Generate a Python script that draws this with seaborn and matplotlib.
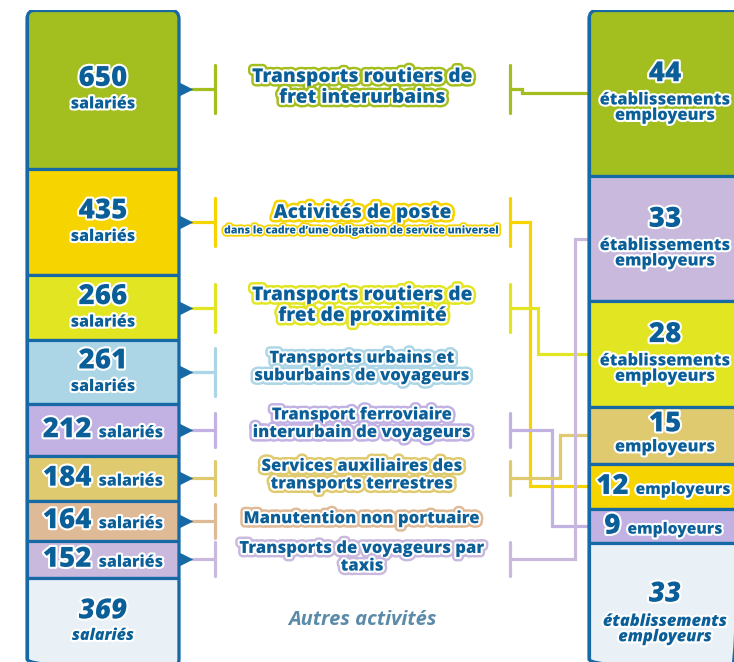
import matplotlib
matplotlib.use("Agg")
import matplotlib.pyplot as plt
import matplotlib.patheffects as pe
from matplotlib.patches import FancyBboxPatch
from matplotlib.offsetbox import TextArea, HPacker, AnnotationBbox
import seaborn as sns
import numpy as np

sns.set_theme(style="white")
plt.rcParams['font.family'] = ['Open Sans', 'DejaVu Sans']

### data
activites = ["Transports routiers de\nfret interurbains",
             "Activités de poste",
             "Transports routiers de\nfret de proximité",
             "Transports urbains et\nsuburbains de voyageurs",
             "Transport ferroviaire\ninterurbain de voyageurs",
             "Services auxiliaires des\ntransports terrestres",
             "Manutention non portuaire",
             "Transports de voyageurs par\ntaxis"]
sous_titres = ["", "dans le cadre d’une obligation de service universel", "", "", "", "", "", ""]
salaries = [650, 435, 266, 261, 212, 184, 164, 152]
etablissements = [44, 12, 28, np.nan, 9, 15, np.nan, 33]
couleurs = ["#a3bf1f", "#f5d400", "#e2e622", "#acd6e6", "#c1b2e3", "#dfca6f", "#dfba97", "#c9badd"]
autres_label = "Autres activités"
autres_salaries = 369
autres_etablissements = 33
autres_couleur = "#e9f1f7"

### style / layout
BLEU = "#1769a5"
TEXTE = "#0b5f98"
FW = 800
W, H = 734, 662
top_px, bottom_px = 10, 668
PX = 1 / (bottom_px - top_px)
left_x0, right_x0, col_w = 27, 589, 152
arrow_x, bracket_l, bracket_r, text_x = 185.5, 215, 510, 362
bracket_half = [24, 24, 24, 24, 17, 17, 17, 17]
title_size = [13.8, 13.8, 13.8, 12, 12, 12, 12, 12]
title_dy = [2, 9, 2, 5, 6, 3, 2, 2]
lanes = [522, 530, 538, None, 552, 560, None, 575]
NUM = 20
LW = 2.3

fig = plt.figure(figsize=(W / 100, H / 100), dpi=100)
ax = fig.add_axes([0, (H - bottom_px) / H, 1, (bottom_px - top_px) / H])
ax.set_xlim(0, W)
ax.set_ylim(1, 0)
ax.axis('off')

halo_w = [pe.withStroke(linewidth=3, foreground='white')]


def halo_double(col, outer=6.5, inner=3):
    return [pe.Stroke(linewidth=outer, foreground=col), pe.Stroke(linewidth=inner, foreground='white'), pe.Normal()]


### stacks
vals_l = salaries + [autres_salaries]
share_l = np.array(vals_l, dtype=float) / sum(vals_l)
bottom_l = np.cumsum(share_l) - share_l
centre_l = bottom_l + share_l / 2
cols_l = couleurs + [autres_couleur]

order = sorted([i for i in range(len(activites)) if not np.isnan(etablissements[i])],
               key=lambda i: -etablissements[i])
vals_r = [etablissements[i] for i in order] + [autres_etablissements]
share_r = np.array(vals_r, dtype=float) / sum(vals_r)
bottom_r = np.cumsum(share_r) - share_r
centre_r = bottom_r + share_r / 2
cols_r = [couleurs[i] for i in order] + [autres_couleur]
centre_r_act = {i: centre_r[k] for k, i in enumerate(order)}


def colonne(x0, shares, bottoms, colors):
    frame = FancyBboxPatch((x0, 0), col_w, 1, boxstyle="round,pad=0,rounding_size=9",
                           mutation_aspect=PX, fc='none', ec=BLEU, lw=LW, zorder=4)
    ax.add_patch(frame)
    bars = ax.bar(x0 + col_w / 2, shares, bottom=bottoms, width=col_w, color=colors,
                  edgecolor=BLEU, linewidth=LW, zorder=3)
    for b in bars:
        b.set_clip_path(frame)


colonne(left_x0, share_l, bottom_l, cols_l)
colonne(right_x0, share_r, bottom_r, cols_r)


def txt(x, y, s, size, dy=0, style='normal', **kw):
    ax.annotate(s, (x, y), xytext=(0, dy), textcoords='offset pixels', ha='center', va='center',
                fontsize=size, fontweight=FW, fontstyle=style, color=TEXTE,
                path_effects=halo_w, zorder=6, linespacing=0.95, **kw)


def ligne(x, y, num, unit, unit_size, dx=0):
    p = dict(fontweight=FW, color=TEXTE, path_effects=halo_w)
    box = HPacker(children=[TextArea(num, textprops=dict(fontsize=NUM, **p)),
                            TextArea(unit, textprops=dict(fontsize=unit_size, **p))],
                  align="baseline", pad=0, sep=5)
    ab = AnnotationBbox(box, (x + dx, y), frameon=False, box_alignment=(0.5, 0.5), pad=0, zorder=6)
    ax.add_artist(ab)


### left column labels
xl = left_x0 + col_w / 2
for k, v in enumerate(vals_l):
    seg = share_l[k] / PX
    last = k == len(vals_l) - 1
    if last:
        txt(xl, centre_l[k], str(v), NUM, dy=12, style='italic')
        txt(xl, centre_l[k], "salariés", 11.5, dy=-13, style='italic')
    elif seg > 60:
        txt(xl, centre_l[k], str(v), NUM, dy=11)
        txt(xl, centre_l[k], "salariés", 11.5, dy=-15)
    else:
        ligne(xl, centre_l[k], str(v), "salariés", 11.5)

### right column labels
xr = right_x0 + col_w / 2
for k, v in enumerate(vals_r):
    seg = share_r[k] / PX
    last = k == len(vals_r) - 1
    if last:
        txt(xr, centre_r[k], str(v), NUM, dy=11.5, style='italic')
        txt(xr, centre_r[k], "établissements\nemployeurs", 11.8, dy=-24, style='italic')
    elif seg > 100:
        txt(xr, centre_r[k], str(v), NUM, dy=19.5)
        txt(xr, centre_r[k], "établissements\nemployeurs", 11.8, dy=-15)
    elif seg > 50:
        txt(xr, centre_r[k], str(v), NUM, dy=11.5)
        txt(xr, centre_r[k], "employeurs", 11.8, dy=-12)
    else:
        ligne(xr, centre_r[k], str(v), "employeurs", 11.2, dx=-2)

### arrows, brackets and connectors
sns.scatterplot(x=[arrow_x] * len(salaries), y=centre_l[:len(salaries)], marker='>', s=95,
                color=BLEU, linewidth=0, ax=ax, legend=False, zorder=5)
for i, name in enumerate(activites):
    c = centre_l[i]
    h = bracket_half[i] * PX
    col = couleurs[i]
    ax.plot([arrow_x + 5, bracket_l], [c, c], color=col, lw=LW, zorder=2)
    ax.plot([bracket_l, bracket_l], [c - h, c + h], color=col, lw=LW, zorder=2)
    if lanes[i] is not None:
        cr = centre_r_act[i]
        ax.plot([bracket_r, bracket_r], [c - h, c + h], color=col, lw=LW, zorder=2)
        ax.plot([bracket_r, lanes[i], lanes[i], right_x0], [c, c, cr, cr], color=col, lw=LW,
                zorder=2, solid_joinstyle='miter')

    ax.annotate(name, (text_x, c), xytext=(0, title_dy[i]), textcoords='offset pixels',
                ha='center', va='center', fontsize=title_size[i], fontweight=FW,
                color=TEXTE, path_effects=halo_double(col), zorder=6, linespacing=1.05)
    if sous_titres[i]:
        ax.annotate(sous_titres[i], (text_x, c), xytext=(0, title_dy[i] - 18), textcoords='offset pixels',
                    ha='center', va='center', fontsize=7.6, fontweight=FW,
                    color=TEXTE, path_effects=halo_double(col, 4.5, 2), zorder=6)

ax.annotate(autres_label, (text_x, centre_l[-1]), xytext=(0, 3), textcoords='offset pixels',
            ha='center', va='center', fontsize=14.5, fontweight='bold', fontstyle='italic',
            color="#5b8ba9", zorder=6)

fig.savefig("out.png", dpi=100)
